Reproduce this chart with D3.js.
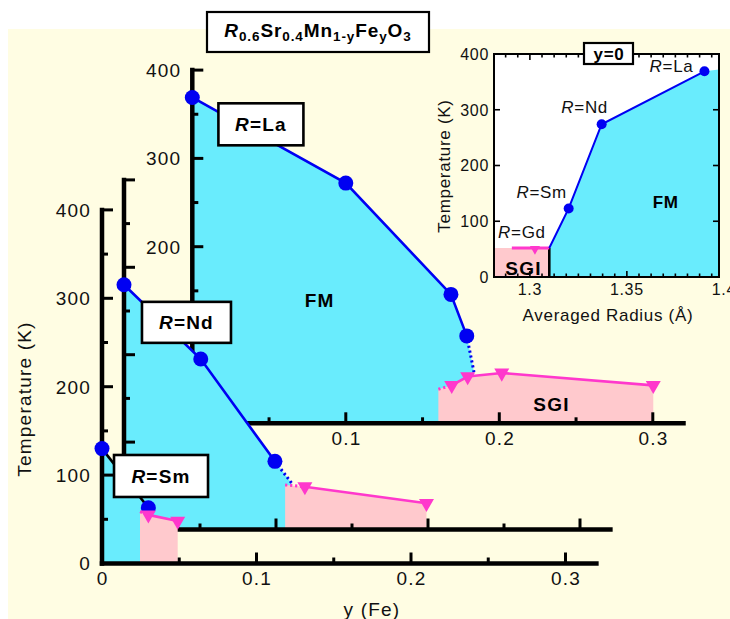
<!DOCTYPE html>
<html>
<head>
<meta charset="utf-8">
<script src="https://cdn.jsdelivr.net/npm/d3@7"></script>
<style>
  html, body { margin: 0; padding: 0; background: #fff; }
  svg { display: block; font-family: "Liberation Sans", Arial, Helvetica, sans-serif; }
</style>
</head>
<body>
<svg id="chart" width="730" height="619"></svg>
<script>
// ---------------- data ----------------
// R = La : Curie temperature (FM) and spin-glass freezing (SGI) vs Fe content y
const laTcFe = [0, 0.1, 0.1685, 0.1788];
const laTc   = [369, 272, 146, 99];
const laTcExtFe = [0.1788, 0.1835];
const laTcExt   = [99, 58];
const laTgFe = [0.169, 0.1794, 0.2016, 0.3003];
const laTg   = [43, 53, 57, 43];
const laSgiOnset = [0.1603, 38.5];

// R = Nd
const ndTcFe = [0, 0.0505, 0.0993];
const ndTc   = [280, 195, 78];
const ndTcExtFe = [0.0993, 0.1103];
const ndTcExt   = [78, 53];
const ndTgFe = [0.119, 0.199];
const ndTg   = [49, 30];
const ndSgiOnset = [0.106, 51];

// R = Sm
const smTcFe = [0, 0.030];
const smTc   = [130, 63];
const smTgFe = [0.030, 0.049];
const smTg   = [55, 48];
const smSgiOnset = [0.0246, 58.6];

const tempTicks = [0, 100, 200, 300, 400];
const feTicks = [0, 0.1, 0.2, 0.3];
const laTempLabels = [200, 300, 400];   // the lower ones sit behind the Nd panel
const laFeLabels = [0.1, 0.2, 0.3];

// inset, y = 0 : transition temperature vs averaged A-site radius
const insetNames = ["Sm", "Nd", "La"];
const insetRadius = [1.32, 1.337, 1.39];
const insetTc = [123, 274, 369];
const insetBoundary = [1.31, 52];      // FM / SGI border
const insetGdRadius = 1.3026;
const insetGdTg = 52;
const insetGdSpan = [1.2907, 1.31];
const insetFmRightEdge = 372;
const insetRadiusDomain = [1.2815, 1.3975];
const insetRadiusTicks = [1.3, 1.35, 1.4];

// ---------------- drawing ----------------
const W = 730, H = 619;
const COL = { bg: "#fffde3", cyan: "#69ecfd", pink: "#ffc9cd", blue: "#0000f2", mag: "#ff38cc", ink: "#000" };
const svg = d3.select("#chart");

svg.append("rect").attr("width", W).attr("height", H).attr("fill", "#fff");
svg.append("rect").attr("x", 8).attr("y", 29).attr("width", W - 8).attr("height", H - 29).attr("fill", COL.bg);

const pairs = (a, b) => a.map((v, i) => [v, b[i]]);

function triDown(s) {
  const h = s * 0.87;
  return `M${-s / 2},${-h / 3}L${s / 2},${-h / 3}L0,${2 * h / 3}Z`;
}

function labelBox(g, cx, cy, w, h, name, fs) {
  g.append("rect").attr("x", cx - w / 2).attr("y", cy - h / 2).attr("width", w).attr("height", h)
    .attr("fill", "#fff").attr("stroke", COL.ink).attr("stroke-width", 2.6);
  const t = g.append("text").attr("x", cx).attr("y", cy).attr("dy", "0.36em")
    .attr("text-anchor", "middle").attr("font-weight", "bold").attr("font-size", fs)
    .attr("letter-spacing", 1.2);
  t.append("tspan").attr("font-style", "italic").text("R");
  t.append("tspan").text("=" + name);
}

function drawPanel(o) {
  const x = d3.scaleLinear().domain([0, 0.32]).range([o.ox, o.ox + 0.32 * o.kx]);
  const y = d3.scaleLinear().domain([0, 400]).range([o.oy, o.oy - 400 * o.ky]);
  const g = svg.append("g");
  const line = d3.line().x(d => x(d[0])).y(d => y(d[1]));
  const tc = pairs(o.tcFe, o.tc);
  const ext = o.extFe ? pairs(o.extFe, o.ext) : null;
  const tg = pairs(o.tgFe, o.tg);

  // FM region
  const fmEnd = ext ? ext[ext.length - 1] : tc[tc.length - 1];
  const fm = [[0, 0], ...tc, ...(ext ? ext.slice(1) : []), [fmEnd[0], 0]];
  g.append("path").attr("d", line(fm) + "Z").attr("fill", COL.cyan);

  // temperature axis
  g.append("line").attr("x1", x(0)).attr("x2", x(0)).attr("y1", y(0)).attr("y2", y(400))
    .attr("stroke", COL.ink).attr("stroke-width", 4.5).attr("stroke-linecap", "square");
  d3.range(50, 401, 50).forEach(v => {
    g.append("line").attr("x1", x(0)).attr("x2", x(0) + (v % 100 === 0 ? 11 : 6))
      .attr("y1", y(v)).attr("y2", y(v)).attr("stroke", COL.ink).attr("stroke-width", 3);
  });
  o.yLabels.forEach(v => g.append("text").attr("x", x(0) - 11).attr("y", y(v)).attr("dy", "0.36em")
    .attr("text-anchor", "end").attr("font-size", 19).attr("letter-spacing", 1.2).attr("fill", "#111").text(v));

  // Tc line and points
  g.append("path").attr("d", line(tc)).attr("fill", "none").attr("stroke", o.tcColor).attr("stroke-width", 2.6);
  if (ext) g.append("path").attr("d", line(ext)).attr("fill", "none").attr("stroke", COL.blue)
    .attr("stroke-width", 3).attr("stroke-dasharray", "2.2,2.8");
  g.selectAll(null).data(tc).join("circle").attr("cx", d => x(d[0])).attr("cy", d => y(d[1]))
    .attr("r", 7.5).attr("fill", COL.blue);

  // SGI region
  const on = o.onset;
  const sgi = [[on[0], 0], on, ...tg, [tg[tg.length - 1][0], 0]];
  g.append("path").attr("d", line(sgi) + "Z").attr("fill", COL.pink);
  g.append("path").attr("d", line([on, tg[0]])).attr("fill", "none").attr("stroke", COL.mag)
    .attr("stroke-width", 3).attr("stroke-dasharray", "2.2,2.8");
  g.append("path").attr("d", line(tg)).attr("fill", "none").attr("stroke", COL.mag).attr("stroke-width", 2.6);
  g.selectAll(null).data(tg).join("path").attr("d", triDown(15))
    .attr("transform", d => `translate(${x(d[0])},${y(d[1])})`).attr("fill", COL.mag);

  // Fe axis
  g.append("line").attr("x1", x(0)).attr("x2", x(0.32)).attr("y1", y(0)).attr("y2", y(0))
    .attr("stroke", COL.ink).attr("stroke-width", 4.5).attr("stroke-linecap", "square");
  d3.range(1, 7).forEach(k => {
    const v = k * 0.05;
    g.append("line").attr("x1", x(v)).attr("x2", x(v)).attr("y1", y(0)).attr("y2", y(0) - (k % 2 === 0 ? 11 : 6))
      .attr("stroke", COL.ink).attr("stroke-width", 3);
  });
  o.xLabels.forEach(v => g.append("text").attr("x", x(v) + 0.6).attr("y", y(0) + 21.5)
    .attr("text-anchor", "middle").attr("font-size", 19).attr("letter-spacing", 1.2).attr("fill", "#111").text(v));

  if (o.regionLabels) {
    g.append("text").attr("x", x(0.083)).attr("y", y(139)).attr("dy", "0.36em").attr("text-anchor", "middle")
      .attr("font-weight", "bold").attr("font-size", 19).attr("letter-spacing", 1.2).text("FM");
    g.append("text").attr("x", x(0.234)).attr("y", y(21.5)).attr("dy", "0.36em").attr("text-anchor", "middle")
      .attr("font-weight", "bold").attr("font-size", 19).attr("letter-spacing", 1.2).text("SGI");
  }

  const b = o.box;
  labelBox(g, x(b.fe), y(b.t), b.w, b.h, o.name, 19);
}

// title
const title = svg.append("g");
title.append("rect").attr("x", 207).attr("y", 12).attr("width", 222).attr("height", 40)
  .attr("fill", "#fff").attr("stroke", COL.ink).attr("stroke-width", 2.2);
const tt = title.append("text").attr("x", 318).attr("y", 36.5).attr("text-anchor", "middle")
  .attr("font-weight", "bold").attr("font-size", 19).attr("letter-spacing", 0.9);
[["R", false, true], ["0.6", true], ["Sr", false], ["0.4", true], ["Mn", false], ["1-y", true],
 ["Fe", false], ["y", true], ["O", false], ["3", true]].forEach(([s, sub, it], i, arr) => {
  const prevSub = i > 0 && arr[i - 1][1];
  const sp = tt.append("tspan").text(s);
  if (sub) sp.attr("font-size", 13.5).attr("dy", 4);
  else if (prevSub) sp.attr("dy", -4);
  if (it) sp.attr("font-style", "italic");
});

drawPanel({ name: "La", ox: 192.3, oy: 423.3, kx: 1535, ky: 0.883, tcColor: COL.blue,
  tcFe: laTcFe, tc: laTc, extFe: laTcExtFe, ext: laTcExt, tgFe: laTgFe, tg: laTg, onset: laSgiOnset,
  yLabels: laTempLabels, xLabels: laFeLabels, regionLabels: true, box: { fe: 0.0447, t: 338.6, w: 85, h: 42 } });

drawPanel({ name: "Nd", ox: 124, oy: 529.5, kx: 1520, ky: 0.874, tcColor: COL.blue,
  tcFe: ndTcFe, tc: ndTc, extFe: ndTcExtFe, ext: ndTcExt, tgFe: ndTgFe, tg: ndTg, onset: ndSgiOnset,
  yLabels: [], xLabels: [], regionLabels: false, box: { fe: 0.0411, t: 237, w: 89, h: 41 } });

drawPanel({ name: "Sm", ox: 102, oy: 563.5, kx: 1545, ky: 0.884, tcColor: "#000",
  tcFe: smTcFe, tc: smTc, extFe: null, ext: null, tgFe: smTgFe, tg: smTg, onset: smSgiOnset,
  yLabels: tempTicks, xLabels: feTicks, regionLabels: false, box: { fe: 0.0382, t: 99, w: 94, h: 42 } });

// main axis titles
svg.append("text").attr("transform", "translate(31,399) rotate(-90)").attr("text-anchor", "middle")
  .attr("font-size", 19).attr("letter-spacing", 1.2).attr("fill", "#111").text("Temperature (K)");
svg.append("text").attr("x", 372).attr("y", 616).attr("text-anchor", "middle")
  .attr("font-size", 19).attr("letter-spacing", 1.2).attr("fill", "#111").text("y (Fe)");

// ---------------- inset ----------------
const ix = d3.scaleLinear().domain(insetRadiusDomain).range([494, 719]);
const iy = d3.scaleLinear().domain([0, 400]).range([277, 54]);
const ig = svg.append("g");
const iline = d3.line().x(d => ix(d[0])).y(d => iy(d[1]));
const [r0, r1] = insetRadiusDomain;

ig.append("rect").attr("x", ix(r0)).attr("y", iy(400)).attr("width", ix(r1) - ix(r0)).attr("height", iy(0) - iy(400))
  .attr("fill", "#fff");
ig.append("path").attr("d", iline([[r0, 0], [r0, insetBoundary[1]], insetBoundary, [insetBoundary[0], 0]]) + "Z")
  .attr("fill", COL.pink);
const tcPts = pairs(insetRadius, insetTc);
ig.append("path").attr("d", iline([[insetBoundary[0], 0], insetBoundary, ...tcPts, [r1, insetFmRightEdge], [r1, 0]]) + "Z")
  .attr("fill", COL.cyan);
ig.append("line").attr("x1", ix(insetBoundary[0])).attr("x2", ix(insetBoundary[0]))
  .attr("y1", iy(0)).attr("y2", iy(insetBoundary[1])).attr("stroke", COL.ink).attr("stroke-width", 2.6);
ig.append("line").attr("x1", ix(insetGdSpan[0])).attr("x2", ix(insetGdSpan[1]))
  .attr("y1", iy(insetGdTg)).attr("y2", iy(insetGdTg)).attr("stroke", COL.mag).attr("stroke-width", 3);
ig.append("path").attr("d", triDown(10)).attr("transform", `translate(${ix(insetGdRadius)},${iy(insetGdTg) + 1})`)
  .attr("fill", COL.mag);
ig.append("path").attr("d", iline([insetBoundary, ...tcPts])).attr("fill", "none")
  .attr("stroke", COL.blue).attr("stroke-width", 2);
ig.selectAll(null).data(tcPts).join("circle").attr("cx", d => ix(d[0])).attr("cy", d => iy(d[1]))
  .attr("r", 5).attr("fill", COL.blue);

// inset frame and ticks
ig.append("rect").attr("x", ix(r0)).attr("y", iy(400)).attr("width", ix(r1) - ix(r0)).attr("height", iy(0) - iy(400))
  .attr("fill", "none").attr("stroke", COL.ink).attr("stroke-width", 2);
tempTicks.slice(1, 4).forEach(v => {
  ig.append("line").attr("x1", ix(r0)).attr("x2", ix(r0) + 6).attr("y1", iy(v)).attr("y2", iy(v)).attr("stroke", COL.ink).attr("stroke-width", 1.6);
  ig.append("line").attr("x1", ix(r1)).attr("x2", ix(r1) - 6).attr("y1", iy(v)).attr("y2", iy(v)).attr("stroke", COL.ink).attr("stroke-width", 1.6);
});
d3.range(-2, 16).map(k => 1.3 + k * 0.00625).filter(v => v > r0 + 0.002 && v < r1 - 0.002).forEach(v => {
  const major = Math.abs(((v - 1.3) / 0.05) - Math.round((v - 1.3) / 0.05)) < 1e-6;
  const len = major ? 6 : 3.5;
  ig.append("line").attr("x1", ix(v)).attr("x2", ix(v)).attr("y1", iy(0)).attr("y2", iy(0) - len).attr("stroke", COL.ink).attr("stroke-width", 1.6);
  ig.append("line").attr("x1", ix(v)).attr("x2", ix(v)).attr("y1", iy(400)).attr("y2", iy(400) + len).attr("stroke", COL.ink).attr("stroke-width", 1.6);
});
tempTicks.forEach(v => ig.append("text").attr("x", ix(r0) - 5).attr("y", iy(v)).attr("dy", "0.36em")
  .attr("text-anchor", "end").attr("font-size", 16).attr("letter-spacing", 0.7).attr("fill", "#111").text(v));
insetRadiusTicks.forEach(v => ig.append("text").attr("x", ix(v)).attr("y", iy(0) + 17.5)
  .attr("text-anchor", "middle").attr("font-size", 16).attr("letter-spacing", 0.7).attr("fill", "#111").text(v));

ig.append("text").attr("transform", `translate(450,${(iy(0) + iy(400)) / 2 + 0.5}) rotate(-90)`).attr("text-anchor", "middle")
  .attr("font-size", 17).attr("letter-spacing", 0.7).attr("fill", "#111").text("Temperature (K)");
ig.append("text").attr("x", 608).attr("y", 321).attr("text-anchor", "middle")
  .attr("font-size", 17).attr("letter-spacing", 0.7).attr("fill", "#111").text("Averaged Radius (Å)");

// element labels next to the points
const labelOffsets = { Sm: [-27, -10, "middle"], Nd: [-17, -11, "middle"], La: [-11, 1, "end"] };
function insetLabel(px, py, name, off) {
  const t = ig.append("text").attr("x", px + off[0]).attr("y", py + off[1]).attr("text-anchor", off[2])
    .attr("font-size", 17).attr("letter-spacing", 0.7).attr("fill", "#111");
  t.append("tspan").attr("font-style", "italic").text("R");
  t.append("tspan").text("=" + name);
}
tcPts.forEach((d, i) => insetLabel(ix(d[0]), iy(d[1]), insetNames[i], labelOffsets[insetNames[i]]));
insetLabel(ix(insetGdRadius), iy(insetGdTg), "Gd", [-13, -10, "middle"]);

ig.append("text").attr("x", ix(1.37)).attr("y", iy(135)).attr("dy", "0.36em").attr("text-anchor", "middle")
  .attr("font-weight", "bold").attr("font-size", 17).attr("letter-spacing", 0.7).text("FM");
ig.append("text").attr("x", 523.5).attr("y", 274.5).attr("text-anchor", "middle")
  .attr("font-weight", "bold").attr("font-size", 19).attr("letter-spacing", 1.2).text("SGI");

// y = 0 tag
ig.append("rect").attr("x", 584).attr("y", 43).attr("width", 49).attr("height", 21)
  .attr("fill", "#fff").attr("stroke", COL.ink).attr("stroke-width", 2.2);
ig.append("text").attr("x", 609).attr("y", 53.5).attr("dy", "0.36em").attr("text-anchor", "middle")
  .attr("font-weight", "bold").attr("font-size", 17).attr("letter-spacing", 0.7).text("y=0");
</script>
</body>
</html>
